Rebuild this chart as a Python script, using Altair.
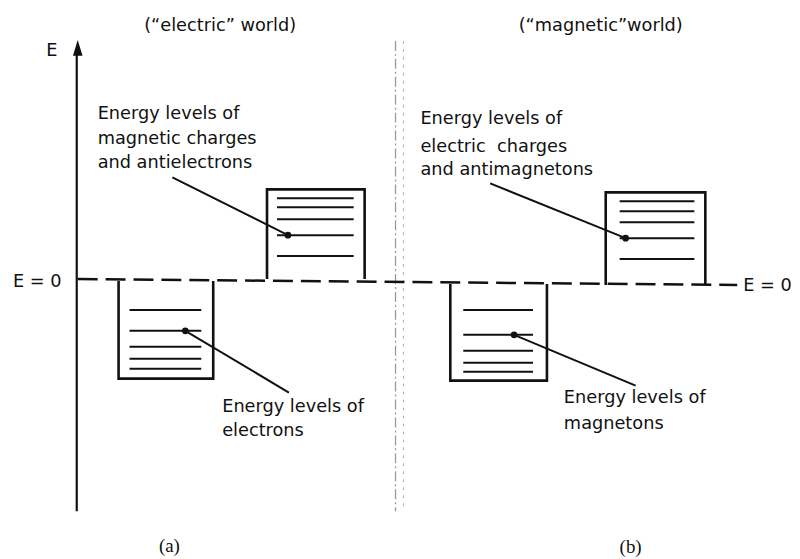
import altair as alt
import pandas as pd

# ---- diagram coordinates (x to the right, y downward; E = 0 level near y = 280) ----
titles = ["(“electric” world)", "(“magnetic”world)"]
title_x = [221, 603]
title_y = [25, 25]

panel_labels = ["(a)", "(b)"]
panel_x = [170, 633]
panel_y = [547, 548]

axis_x = [77, 77]
axis_y = [512, 52]
arrow_x = [78]
arrow_y = [47]
e_label = ["E"]
e_label_x = [52]
e_label_y = [50]

zero_x = [78, 740]
zero_y = [279, 285]
zero_labels = ["E = 0", "E = 0"]
zero_label_x = [13, 746]
zero_label_y = [282, 286]

sep_x = [397, 405]
sep_y0 = [40, 40]
sep_y1 = [512, 512]

box_names = ["electric_up", "electric_down", "magnetic_up", "magnetic_down"]
box_x0 = [268, 119, 608, 452]
box_x1 = [366, 214, 708, 549]
box_base = [279, 281, 285, 284]
box_far = [189, 379, 192, 381]

level_x0 = [278, 130, 622, 465]
level_x1 = [355, 202, 697, 535]
levels = [
    [198, 207, 219, 235, 256],
    [310, 331, 347, 359, 369],
    [201, 211, 222, 238, 259],
    [310, 335, 351, 363, 372],
]

dot_x = [289, 186, 628, 516]
dot_y = [235, 331, 238, 335]
leader_x = [173, 290, 492, 638]
leader_y = [177, 393, 183, 386]

label_lines = [
    ["Energy levels of", "magnetic charges", "and antielectrons"],
    ["Energy levels of", "electrons"],
    ["Energy levels of", "electric\u00a0 charges", "and antimagnetons"],
    ["Energy levels of", "magnetons"],
]
label_x = [98, 223, 422, 566]
label_y = [[113, 138, 163], [407, 432], [118, 146, 170], [398, 425]]

# ---- tables ----
X = lambda f="x": alt.X(f"{f}:Q", scale=alt.Scale(domain=[8, 792], nice=False, zero=False), axis=None)
Y = lambda f="y": alt.Y(f"{f}:Q", scale=alt.Scale(domain=[8, 551], nice=False, zero=False, reverse=True), axis=None)

box_rows = []
for i, name in enumerate(box_names):
    pts = [(box_x0[i], box_base[i]), (box_x0[i], box_far[i]), (box_x1[i], box_far[i]), (box_x1[i], box_base[i])]
    for k, (px, py) in enumerate(pts):
        box_rows.append({"box": name, "o": k, "x": px, "y": py})
box_df = pd.DataFrame(box_rows)

level_rows = []
for i, lv in enumerate(levels):
    for v in lv:
        level_rows.append({"x": level_x0[i], "x2": level_x1[i], "y": v})
level_df = pd.DataFrame(level_rows)

leader_df = pd.DataFrame({"x": dot_x, "y": dot_y, "x2": leader_x, "y2": leader_y})
dot_df = pd.DataFrame({"x": dot_x, "y": dot_y})

label_rows = []
for i, lines in enumerate(label_lines):
    for j, t in enumerate(lines):
        label_rows.append({"x": label_x[i], "y": label_y[i][j], "t": t})
label_df = pd.DataFrame(label_rows)

zero_df = pd.DataFrame({"x": zero_x, "y": zero_y})
axis_df = pd.DataFrame({"x": axis_x, "y": axis_y})
sep_df = pd.DataFrame({"x": sep_x, "y": sep_y0, "y2": sep_y1})

BLACK = "#111111"
FS = 17.8

axis_line = alt.Chart(axis_df).mark_line(color=BLACK, strokeWidth=2.2).encode(x=X(), y=Y())
arrow = alt.Chart(pd.DataFrame({"x": arrow_x, "y": arrow_y})).mark_point(
    shape="M0,-1L0.6,1L-0.6,1Z", filled=True, size=256, color=BLACK, opacity=1
).encode(x=X(), y=Y())

zero_line = alt.Chart(zero_df).mark_line(color=BLACK, strokeWidth=2.5, strokeDash=[20, 8]).encode(x=X(), y=Y())

sep1 = alt.Chart(sep_df.iloc[[0]]).mark_rule(color="#9a9a9a", strokeWidth=1.3, strokeDash=[10, 3, 2, 3]).encode(
    x=X(), y=Y(), y2="y2:Q")
sep2 = alt.Chart(sep_df.iloc[[1]]).mark_rule(color="#b8b8b8", strokeWidth=1.1, strokeDash=[3, 5]).encode(
    x=X(), y=Y(), y2="y2:Q")

boxes = alt.Chart(box_df).mark_line(color=BLACK, strokeWidth=2.6, strokeJoin="miter").encode(
    x=X(), y=Y(), detail="box:N", order="o:Q")

level_lines = alt.Chart(level_df).mark_rule(color=BLACK, strokeWidth=2).encode(x=X(), x2="x2:Q", y=Y())

leaders = alt.Chart(leader_df).mark_rule(color=BLACK, strokeWidth=2).encode(x=X(), y=Y(), x2="x2:Q", y2="y2:Q")
dots = alt.Chart(dot_df).mark_point(filled=True, size=45, color=BLACK, opacity=1).encode(x=X(), y=Y())

labels = alt.Chart(label_df).mark_text(align="left", baseline="middle", font="DejaVu Sans",
                                       fontSize=FS, color=BLACK).encode(x=X(), y=Y(), text="t:N")

title_df = pd.DataFrame({"x": title_x, "y": title_y, "t": titles})
title_text = alt.Chart(title_df).mark_text(align="center", baseline="middle", font="DejaVu Sans",
                                           fontSize=FS, color=BLACK).encode(x=X(), y=Y(), text="t:N")

zero_text = alt.Chart(pd.DataFrame({"x": zero_label_x, "y": zero_label_y, "t": zero_labels})).mark_text(
    align="left", baseline="middle", font="DejaVu Sans", fontSize=FS, color=BLACK).encode(x=X(), y=Y(), text="t:N")

e_text = alt.Chart(pd.DataFrame({"x": e_label_x, "y": e_label_y, "t": e_label})).mark_text(
    align="center", baseline="middle", font="DejaVu Sans", fontSize=FS, color=BLACK).encode(x=X(), y=Y(), text="t:N")

panel_text = alt.Chart(pd.DataFrame({"x": panel_x, "y": panel_y, "t": panel_labels})).mark_text(
    align="center", baseline="middle", font="Liberation Serif", fontSize=19, color=BLACK).encode(x=X(), y=Y(), text="t:N")

chart = alt.layer(
    sep1, sep2, zero_line, axis_line, arrow, boxes, level_lines, leaders, dots,
    labels, title_text, zero_text, e_text, panel_text
).properties(width=784, height=543, padding=0, background="white").configure_view(stroke=None)

chart.save("out.html", embed_options={"renderer": "svg", "actions": False})
